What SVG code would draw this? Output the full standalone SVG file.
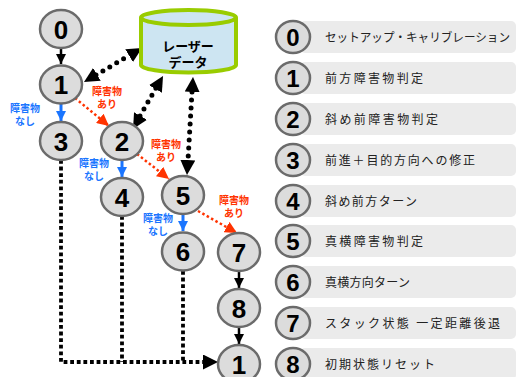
<svg xmlns="http://www.w3.org/2000/svg" width="517" height="377" viewBox="0 0 517 377">
<defs>
<style>
.node ellipse{fill:#dcdcdc;stroke:#6b6b6b;stroke-width:2.5}
.num{font-family:"Liberation Sans",Arial,sans-serif;font-weight:bold;font-size:26px;fill:#000;text-anchor:middle}
.lnum{font-family:"Liberation Sans",Arial,sans-serif;font-weight:bold;font-size:24px;fill:#000;text-anchor:middle}
.row rect{fill:#ebebeb}
.ltxt{font-family:"Noto Sans CJK JP","Noto Sans",sans-serif;font-size:12px;fill:#222}
.lab{font-family:"Noto Sans CJK JP","Noto Sans",sans-serif;font-weight:bold;font-size:10px;text-anchor:middle}
.red{fill:#ff3300}
.blue{fill:#1a75ff}
.solid{stroke:#000;stroke-width:2.5;fill:none}
.bsolid{stroke:#1a75ff;stroke-width:3;fill:none}
.rdot{stroke:#ff3300;stroke-width:2.5;stroke-dasharray:2.5 2.5;fill:none}
.bdot{stroke:#000;stroke-width:5;stroke-linecap:round;stroke-dasharray:0 8;fill:none}
.sdot{stroke:#000;stroke-width:3.8;stroke-dasharray:3.8 2.8;fill:none}
.mk{stroke:#000;stroke-width:0.1;fill:none}
</style>
<marker id="ab" viewBox="0 0 10 10" refX="10" refY="5" markerWidth="10" markerHeight="10" markerUnits="userSpaceOnUse" orient="auto"><path d="M0,0 L10,5 L0,10 Z" fill="#000"/></marker>
<marker id="abig" viewBox="0 0 10 10" refX="10" refY="5" markerWidth="15" markerHeight="15" markerUnits="userSpaceOnUse" orient="auto"><path d="M0,0 L10,5 L0,10 Z" fill="#000"/></marker>
<marker id="ablue" viewBox="0 0 10 10" refX="10" refY="5" markerWidth="10" markerHeight="10" markerUnits="userSpaceOnUse" orient="auto"><path d="M0,0 L10,5 L0,10 Z" fill="#1a75ff"/></marker>
<marker id="ared" viewBox="0 0 10 10" refX="10" refY="5" markerWidth="12" markerHeight="12" markerUnits="userSpaceOnUse" orient="auto"><path d="M0,0 L10,5 L0,10 Z" fill="#ff3300"/></marker>
</defs>
<rect width="517" height="377" fill="#fff"/>

<g id="connectors">
<line class="solid" x1="61" y1="47" x2="61" y2="64" marker-end="url(#ab)"/>
<line class="bsolid" x1="61" y1="104" x2="61" y2="121" marker-end="url(#ablue)"/>
<line class="bsolid" x1="122" y1="160" x2="122" y2="177" marker-end="url(#ablue)"/>
<line class="bsolid" x1="183" y1="214" x2="183" y2="231" marker-end="url(#ablue)"/>
<line class="solid" x1="239" y1="271" x2="239" y2="288" marker-end="url(#ab)"/>
<line class="solid" x1="239" y1="327" x2="239" y2="344" marker-end="url(#ab)"/>
<line class="rdot" x1="75" y1="98" x2="109" y2="126" marker-end="url(#ared)"/>
<line class="rdot" x1="137" y1="154" x2="169" y2="179" marker-end="url(#ared)"/>
<line class="rdot" x1="198" y1="211" x2="237" y2="233" marker-end="url(#ared)"/>
<line class="bdot" x1="96" y1="75" x2="130" y2="55"/>
<line class="mk" x1="95" y1="75.5" x2="84" y2="82" marker-end="url(#abig)"/>
<line class="mk" x1="131" y1="54.5" x2="142" y2="48" marker-end="url(#abig)"/>
<line class="bdot" x1="140" y1="116" x2="156" y2="88"/>
<line class="mk" x1="140" y1="117" x2="133" y2="129" marker-end="url(#abig)"/>
<line class="mk" x1="156" y1="88" x2="163" y2="76" marker-end="url(#abig)"/>
<line class="bdot" x1="192" y1="92" x2="188" y2="160"/>
<line class="mk" x1="192.3" y1="90" x2="193" y2="77" marker-end="url(#abig)"/>
<line class="mk" x1="187.7" y1="162" x2="187" y2="175" marker-end="url(#abig)"/>
<path class="sdot" d="M61,160 L61,362 L205,362"/>
<path class="sdot" d="M122,216 L122,362"/>
<path class="sdot" d="M183,271 L183,362"/>
<line class="mk" x1="200" y1="362" x2="218" y2="362" marker-end="url(#abig)"/>
</g>

<g id="labels">
<text class="lab red" x="107" y="95">障害物</text><text class="lab red" x="107" y="108">あり</text>
<text class="lab blue" x="25" y="112">障害物</text><text class="lab blue" x="25" y="125">なし</text>
<text class="lab blue" x="94" y="167">障害物</text><text class="lab blue" x="94" y="180">なし</text>
<text class="lab red" x="166" y="148">障害物</text><text class="lab red" x="166" y="161">あり</text>
<text class="lab blue" x="158" y="222">障害物</text><text class="lab blue" x="158" y="235">なし</text>
<text class="lab red" x="234" y="204">障害物</text><text class="lab red" x="234" y="217">あり</text>
</g>

<g id="laser">
<path d="M141,17.5 L141,65 A47.5,7.5 0 0 0 236,65 L236,17.5" fill="#cde5f2" stroke="#99cc00" stroke-width="4"/>
<ellipse cx="188.5" cy="17.5" rx="47.5" ry="7.5" fill="#cde5f2" stroke="#99cc00" stroke-width="4"/>
<text x="188" y="51" font-family="'Noto Sans CJK JP',sans-serif" font-weight="bold" font-size="13" text-anchor="middle">レーザー</text>
<text x="188" y="67" font-family="'Noto Sans CJK JP',sans-serif" font-weight="bold" font-size="13" text-anchor="middle">データ</text>
</g>

<g id="n0" class="node"><ellipse cx="61" cy="29" rx="21" ry="19"/><text class="num" x="61" y="39">0</text></g>
<g id="n1" class="node"><ellipse cx="61" cy="84.5" rx="21" ry="19"/><text class="num" x="61" y="94">1</text></g>
<g id="n3" class="node"><ellipse cx="61" cy="141" rx="21" ry="19"/><text class="num" x="61" y="151">3</text></g>
<g id="n2" class="node"><ellipse cx="122" cy="141" rx="21" ry="19"/><text class="num" x="122" y="151">2</text></g>
<g id="n4" class="node"><ellipse cx="122" cy="197" rx="21" ry="19"/><text class="num" x="122" y="207">4</text></g>
<g id="n5" class="node"><ellipse cx="183" cy="195" rx="21" ry="19"/><text class="num" x="183" y="205">5</text></g>
<g id="n6" class="node"><ellipse cx="183" cy="251.5" rx="21" ry="19"/><text class="num" x="183" y="261">6</text></g>
<g id="n7" class="node"><ellipse cx="239" cy="252" rx="21" ry="19"/><text class="num" x="239" y="262">7</text></g>
<g id="n8" class="node"><ellipse cx="239" cy="308" rx="21" ry="19"/><text class="num" x="239" y="318">8</text></g>
<g id="n1b" class="node"><ellipse cx="239" cy="364" rx="21" ry="19"/><text class="num" x="239" y="374">1</text></g>

<g id="legend">
<g id="l0" class="row node"><rect x="300" y="21" width="216" height="32" rx="5"/><ellipse cx="293" cy="37" rx="17" ry="16"/><text class="lnum" x="293" y="46">0</text><text class="ltxt" x="325" y="42" textLength="185" lengthAdjust="spacingAndGlyphs">セットアップ・キャリブレーション</text></g>
<g id="l1" class="row node"><rect x="300" y="62" width="216" height="32" rx="5"/><ellipse cx="293" cy="78" rx="17" ry="16"/><text class="lnum" x="293" y="87">1</text><text class="ltxt" x="325" y="83" textLength="98">前方障害物判定</text></g>
<g id="l2" class="row node"><rect x="300" y="103" width="216" height="32" rx="5"/><ellipse cx="293" cy="119" rx="17" ry="16"/><text class="lnum" x="293" y="128">2</text><text class="ltxt" x="325" y="124" textLength="113">斜め前障害物判定</text></g>
<g id="l3" class="row node"><rect x="300" y="144" width="216" height="32" rx="5"/><ellipse cx="293" cy="160" rx="17" ry="16"/><text class="lnum" x="293" y="169">3</text><text class="ltxt" x="325" y="165" textLength="150">前進＋目的方向への修正</text></g>
<g id="l4" class="row node"><rect x="300" y="185" width="216" height="32" rx="5"/><ellipse cx="293" cy="201" rx="17" ry="16"/><text class="lnum" x="293" y="210">4</text><text class="ltxt" x="325" y="206" textLength="92">斜め前方ターン</text></g>
<g id="l5" class="row node"><rect x="300" y="225" width="216" height="32" rx="5"/><ellipse cx="293" cy="241" rx="17" ry="16"/><text class="lnum" x="293" y="250">5</text><text class="ltxt" x="325" y="246" textLength="98">真横障害物判定</text></g>
<g id="l6" class="row node"><rect x="300" y="266" width="216" height="32" rx="5"/><ellipse cx="293" cy="282" rx="17" ry="16"/><text class="lnum" x="293" y="291">6</text><text class="ltxt" x="325" y="287" textLength="85">真横方向ターン</text></g>
<g id="l7" class="row node"><rect x="300" y="307" width="216" height="32" rx="5"/><ellipse cx="293" cy="323" rx="17" ry="16"/><text class="lnum" x="293" y="332">7</text><text class="ltxt" x="325" y="328" textLength="175">スタック状態 一定距離後退</text></g>
<g id="l8" class="row node"><rect x="300" y="348" width="216" height="32" rx="5"/><ellipse cx="293" cy="364" rx="17" ry="16"/><text class="lnum" x="293" y="373">8</text><text class="ltxt" x="325" y="369" textLength="110">初期状態リセット</text></g>
</g>
</svg>
